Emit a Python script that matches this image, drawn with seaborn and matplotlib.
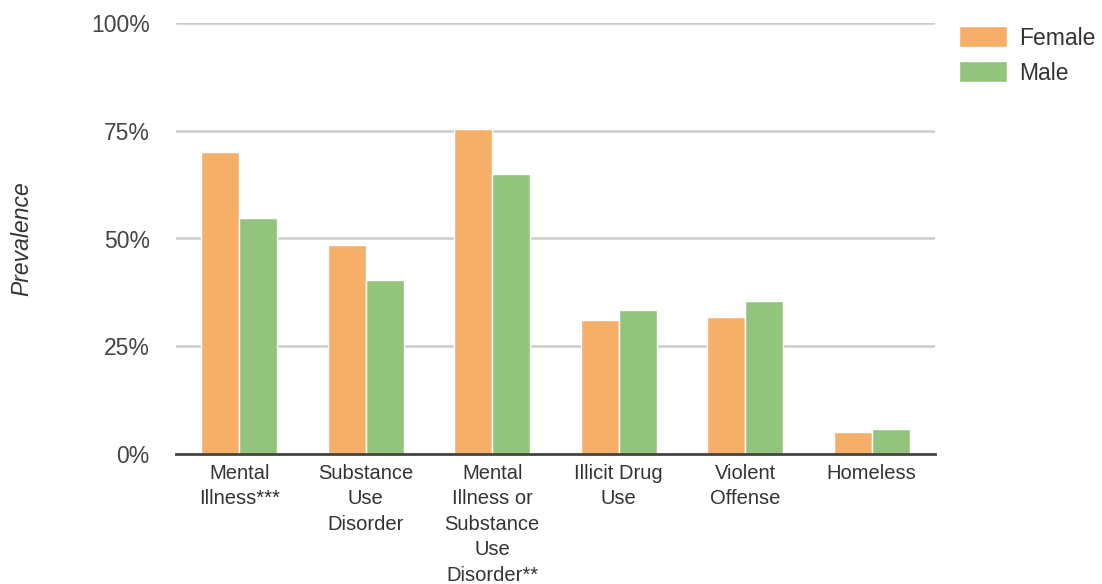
import matplotlib
matplotlib.use("Agg")
import matplotlib.pyplot as plt
import seaborn as sns
import pandas as pd
from matplotlib.ticker import FuncFormatter

categories = ["Mental\nIllness***", "Substance\nUse\nDisorder",
              "Mental\nIllness or\nSubstance\nUse\nDisorder**",
              "Illicit Drug\nUse", "Violent\nOffense", "Homeless"]
female = [70.0, 48.6, 75.5, 31.2, 31.7, 5.2]
male = [54.7, 40.3, 64.9, 33.5, 35.4, 5.7]
series = ["Female", "Male"]
colors = ["#F5AF69", "#93C47D"]
yticks = [0, 25, 50, 75, 100]

df = pd.DataFrame({
    "Category": categories * 2,
    "Sex": ["Female"] * len(categories) + ["Male"] * len(categories),
    "Value": female + male,
})

sns.set_theme(style="white")
plt.rcParams["font.family"] = ["Liberation Sans", "DejaVu Sans"]

fig = plt.figure(figsize=(11.02, 5.84), dpi=100)
ax = fig.add_axes([176 / 1102, 1 - 454 / 584, (935 - 176) / 1102, (454 - 23) / 584])

sns.barplot(data=df, x="Category", y="Value", hue="Sex", hue_order=series,
            palette=colors, width=0.6, edgecolor="white", linewidth=1,
            errorbar=None, ax=ax, zorder=3, saturation=1)

ax.set_ylim(0, 100)
ax.set_xlim(-0.5, len(categories) - 0.5)
ax.set_yticks(yticks)
ax.yaxis.set_major_formatter(FuncFormatter(lambda v, p: f"{int(v)}%"))
ax.grid(axis="y", color="#CCCCCC", linewidth=1.8, zorder=0)
ax.grid(axis="x", visible=False)
for s in ["top", "right", "left"]:
    ax.spines[s].set_visible(False)
ax.spines["bottom"].set_color("#444444")
ax.spines["bottom"].set_linewidth(2)
ax.spines["bottom"].set_zorder(5)

ax.tick_params(axis="y", length=0, pad=19, labelsize=16.5, labelcolor="#444444")
ax.tick_params(axis="x", length=0, pad=7, labelsize=14.5, labelcolor="#333333")
for t in ax.get_xticklabels():
    t.set_linespacing(1.43)

ax.set_xlabel("")
ax.set_ylabel("Prevalence", fontsize=16.5, style="italic", color="#333333")
ax.yaxis.set_label_coords((33 - 176) / 759, 0.5)

handles, labels = ax.get_legend_handles_labels()
if ax.legend_:
    ax.legend_.remove()
fig.legend(handles, labels, loc="upper left", bbox_to_anchor=(950 / 1102, 1 - 17 / 584),
           frameon=False, fontsize=16.5, handlelength=2.1, handleheight=1.05,
           labelspacing=0.5, handletextpad=0.5, borderaxespad=0, labelcolor="#333333")

fig.savefig("out.png", dpi=100)
